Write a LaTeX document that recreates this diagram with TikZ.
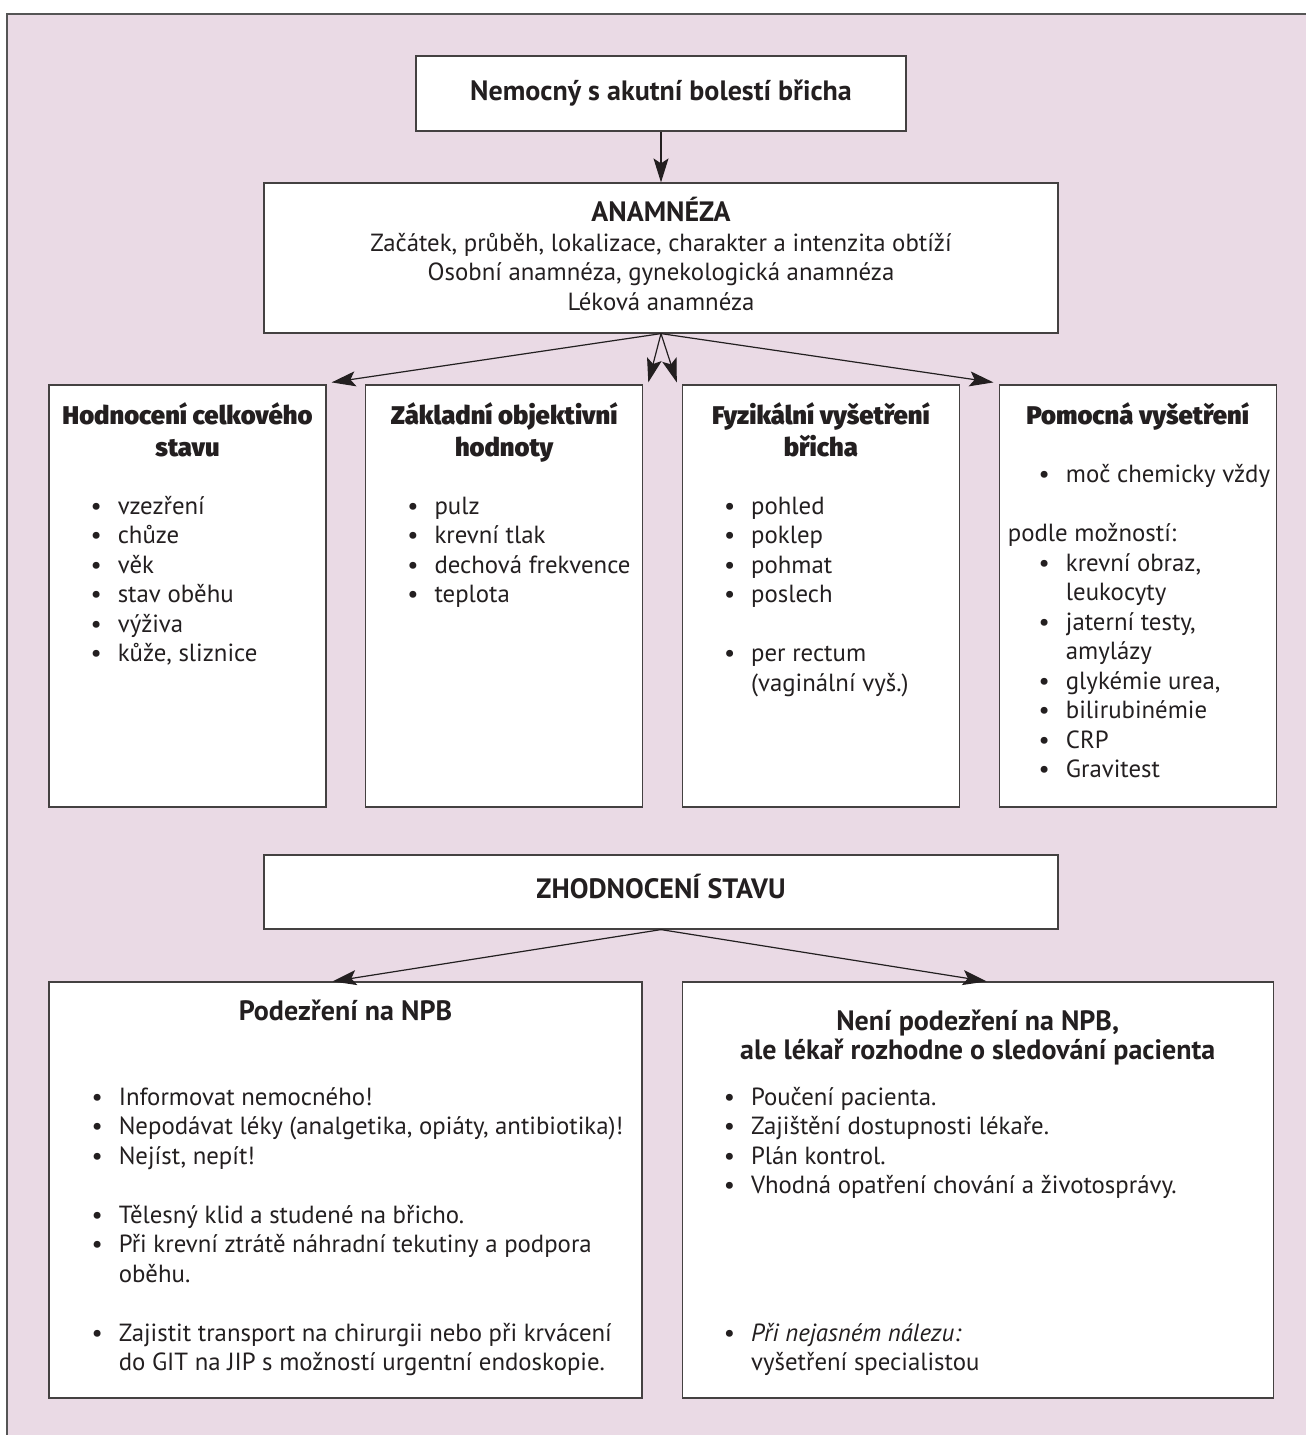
\documentclass[tikz,border=0pt]{standalone}
\usepackage{fontspec}
\setmainfont{PT Sans}
\newfontfamily\blackfont{Fira Sans Black}
\usetikzlibrary{arrows.meta,positioning,calc}
\definecolor{panelbg}{RGB}{234,218,229}
\definecolor{ink}{RGB}{35,31,32}
\definecolor{framegray}{RGB}{85,85,85}
\newcommand{\bodyfont}{\fontsize{12.4}{14.75}\selectfont}
\newcommand{\headfont}{\fontsize{14}{14.5}\selectfont\bfseries}
\newcommand{\heavyfont}{\blackfont\fontsize{12.8}{16}\selectfont}
\newcommand{\itm}{\llap{\textbullet\hspace{8pt}}}
\tikzset{
  panel/.style = { draw=ink!85, line width=0.6pt, fill=white, inner sep=0pt },
  colpanel/.style = { panel, minimum width=138.5pt, minimum height=211pt },
  widepanel/.style = { panel, minimum width=397pt },
  head/.style  = { font=\headfont, text=ink, inner sep=0pt, align=center, anchor=base },
  heavy/.style = { font=\heavyfont, text=ink, inner sep=0pt, align=center, anchor=base },
  body/.style  = { font=\bodyfont, text=ink, inner sep=0pt, align=left, anchor=base west },
  flow/.style  = { draw=ink, line width=0.6pt,
    -{Stealth[length=12pt,width=7.5pt,inset=2.5pt]} }
}
\begin{document}
\begin{tikzpicture}[x=0.5pt,y=-0.5pt]
    \useasboundingbox (0,0) rectangle (1306,1435);
    \fill[panelbg] (7,14) rectangle (1306,1435);
    \draw[framegray, line width=0.65pt] (7,1435) -- (7,14) -- (1306,14);

    \node[panel, minimum width=245pt, minimum height=37.5pt] (start) at (661,93.5) {};
    \node[widepanel, minimum height=75pt] (anam) at (661,258) {};
    \node[colpanel] (celk) at (187.5,596) {};
    \node[colpanel, right=19.25pt of celk] (obj) {};
    \node[colpanel, right=19.25pt of obj] (fyz) {};
    \node[colpanel, right=19.25pt of fyz] (pom) {};
    \node[widepanel, minimum height=37pt] (zhod) at (661,892) {};
    \node[panel, minimum width=296.5pt, minimum height=208pt] (npb) at (345.5,1190) {};
    \node[panel, minimum width=295.5pt, minimum height=208pt, right=19.5pt of npb] (nenpb) {};

    % texts sit on the baseline of their last line
    \node[head] (startt) at ($(start.north)+(0,45)$) {Nemocný s akutní bolestí břicha};
    \node[body, align=center, anchor=base] (anamt) at ($(anam.north)+(0,128)$)
      {{\headfont ANAMNÉZA}\\
       Začátek, průběh, lokalizace, charakter a intenzita obtíží\\
       Osobní anamnéza, gynekologická anamnéza\\
       Léková anamnéza};

    \node[heavy] (celkt) at ($(celk.north)+(0,72)$) {Hodnocení celkového\\stavu};
    \node[body] (celkl) at ($(celk.north west)+(69,277.5)$)
      {\itm vzezření\\ \itm chůze\\ \itm věk\\ \itm stav oběhu\\ \itm výživa\\ \itm kůže, sliznice};

    \node[heavy] (objt) at ($(obj.north)+(0,72)$) {Základní objektivní\\hodnoty};
    \node[body] (objl) at ($(obj.north west)+(69,218.5)$)
      {\itm pulz\\ \itm krevní tlak\\ \itm dechová frekvence\\ \itm teplota};

    \node[heavy] (fyzt) at ($(fyz.north)+(0,72)$) {Fyzikální vyšetření\\břicha};
    \node[body] (fyzl) at ($(fyz.north west)+(69,307)$)
      {\itm pohled\\ \itm poklep\\ \itm pohmat\\ \itm poslech\\[14.75pt]
       \itm per rectum\\ (vaginální vyš.)};

    \node[heavy] (pomt) at ($(pom.north)+(0,40)$) {Pomocná vyšetření};
    \node[body] (poml) at ($(pom.north west)+(67,393.5)$)
      {\itm moč chemicky vždy\\[14.75pt]
       \makebox[0pt][l]{\hspace*{-29pt}podle možností:}\\
       \itm krevní obraz,\\ leukocyty\\ \itm jaterní testy,\\ amylázy\\
       \itm glykémie urea,\\ \itm bilirubinémie\\ \itm CRP\\ \itm Gravitest};

    \node[head] (zhodt) at ($(zhod.north)+(0,44)$) {ZHODNOCENÍ STAVU};

    \node[head] (npbt) at ($(npb.north)+(0,39)$) {Podezření na NPB};
    \node[body] (npbl) at ($(npb.north west)+(70,389.5)$)
      {\itm Informovat nemocného!\\
       \itm Nepodávat léky (analgetika, opiáty, antibiotika)!\\
       \itm Nejíst, nepít!\\[14.75pt]
       \itm Tělesný klid a studené na břicho.\\
       \itm Při krevní ztrátě náhradní tekutiny a podpora\\ oběhu.\\[14.75pt]
       \itm Zajistit transport na chirurgii nebo při krvácení\\
       do GIT na JIP s možností urgentní endoskopie.};

    \node[head] (nenpbt) at ($(nenpb.north)+(0,78)$)
      {Není podezření na NPB,\\ale lékař rozhodne o sledování pacienta};
    \node[body] (nenpbl) at ($(nenpb.north west)+(69,389.5)$)
      {\itm Poučení pacienta.\\ \itm Zajištění dostupnosti lékaře.\\ \itm Plán kontrol.\\
       \itm Vhodná opatření chování a životosprávy.\\[59pt]
       \itm \textit{Při nejasném nálezu:}\\ vyšetření specialistou};

    \draw[flow] (start) -- (anam);
    \draw[flow] (anam.south) -- ($(celk.north east)+(5,-2)$);
    \draw[flow] (anam.south) -- ($(obj.north east)+(5,-2)$);
    \draw[flow] (anam.south) -- ($(fyz.north west)+(-5,-2)$);
    \draw[flow] (anam.south) -- ($(pom.north west)+(-5,-2)$);
    \draw[flow] (zhod.south) -- ($(npb.north)+(-13,0)$);
    \draw[flow] (zhod.south) -- ($(nenpb.north)+(9,0)$);
\end{tikzpicture}
\end{document}
